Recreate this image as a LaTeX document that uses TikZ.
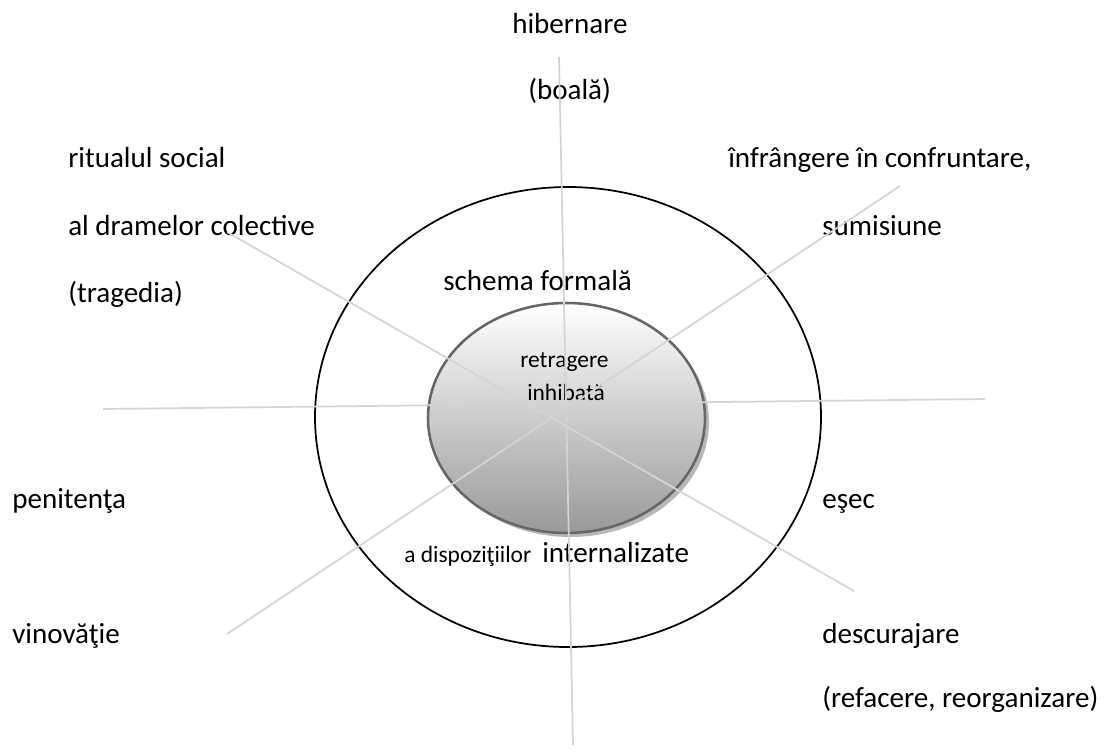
\documentclass[tikz,border=0pt]{standalone}
\usepackage{fontspec}
\setmainfont{Carlito}
\begin{document}
\begin{tikzpicture}[x=0.75pt,y=-0.75pt,
  lbl/.style={anchor=base west,inner sep=0pt,font=\fontsize{21.8}{26}\selectfont},
  lblsmall/.style={anchor=base west,inner sep=0pt,font=\fontsize{17.6}{21}\selectfont},
  ray/.style={draw=black!17,line width=1.3pt},
  outerring/.style={draw=black,line width=1.3pt},
  innerdisc/.style={draw=black!60,line width=1.9pt,top color=white,middle color=black!9,bottom color=black!40},
  discshadow/.style={fill=black!28}]
\path[use as bounding box,fill=white] (0,0) rectangle (1109,751);
% outer ellipse
\coordinate (oc) at (568,417);
\draw[outerring] (oc) ellipse [x radius=189.75pt,y radius=172.5pt];
% inner ellipse with shadow
\coordinate (ic) at (566.5,418);
\coordinate (sc) at (570.5,422);
\fill[discshadow] (sc) ellipse [x radius=103.9pt,y radius=86.25pt];
\path[innerdisc] (ic) ellipse [x radius=103.9pt,y radius=86.25pt];
% labels
\node[lbl] (hib) at (512,33) {hibernare};
\node[lbl] (boala) at (528,99) {(boală)};
\node[lbl] (rit1) at (68,167) {ritualul social};
\node[lbl] (rit2) at (68,235) {al dramelor colective};
\node[lbl] (rit3) at (68,302) {(tragedia)};
\node[lbl] (inf1) at (728,167) {înfrângere în confruntare,};
\node[lbl] (inf2) at (822,235) {sumisiune};
\node[lbl] (schema) at (443,290) {schema formală};
\node[lblsmall] (retr) at (520,367) {retragere};
\node[lblsmall] (inhib) at (527,400) {inhibată};
\node[lblsmall] (adisp) at (404,562) {a dispoziţiilor};
\node[lbl] (intern) at (542,562) {internalizate};
\node[lbl] (pen) at (12,508) {penitenţa};
\node[lbl] (vin) at (12,643) {vinovăţie};
\node[lbl] (esec) at (822,508) {eşec};
\node[lbl] (desc) at (822,643) {descurajare};
\node[lbl] (ref) at (822,707) {(refacere, reorganizare)};
% rays
\coordinate (vt) at (559,57);
\coordinate (vb) at (573,745);
\coordinate (hl) at (103,409);
\coordinate (hr) at (985,399);
\coordinate (ul) at (227,232);
\coordinate (lr) at (854,591);
\coordinate (ur) at (900,186);
\coordinate (ll) at (227,634);
\draw[ray] (vt) -- (vb);
\draw[ray] (hl) -- (hr);
\draw[ray] (ul) -- (lr);
\draw[ray] (ur) -- (ll);
\end{tikzpicture}
\end{document}
